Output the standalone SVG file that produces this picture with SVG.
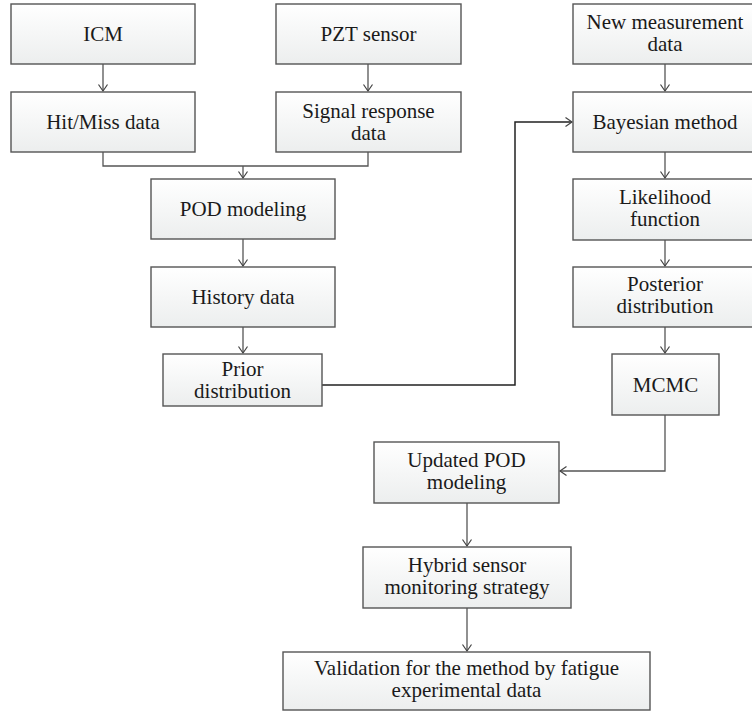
<svg xmlns="http://www.w3.org/2000/svg" width="752" height="712" viewBox="0 0 752 712">
<defs>
<linearGradient id="g" x1="0" y1="0" x2="0" y2="1">
<stop offset="0" stop-color="#ffffff"/>
<stop offset="1" stop-color="#eceeee"/>
</linearGradient>
<marker id="a" viewBox="-8 -6 10 12" refX="0" refY="0" markerWidth="10" markerHeight="12" markerUnits="userSpaceOnUse" orient="auto">
<path d="M-6.5,-4.5 L0,0 L-6.5,4.5" fill="none" stroke="#444" stroke-width="1.2"/>
</marker>
</defs>
<style>
rect{fill:url(#g);stroke:#555;stroke-width:1.4}
text{font-size:21px;fill:#1a1a1a;text-anchor:middle}
.c{fill:none;stroke:#555;stroke-width:1.3}
.k{fill:none;stroke:#222;stroke-width:1.5}
</style>
<rect x="0" y="0" width="752" height="712" style="fill:#fff;stroke:none"/>
<g id="connectors">
<path class="c" d="M103,64 V91" marker-end="url(#a)"/>
<path class="c" d="M368,64 V91" marker-end="url(#a)"/>
<path class="c" d="M103,152 V166 H368 V152"/>
<path class="c" d="M243,166 V178" marker-end="url(#a)"/>
<path class="c" d="M243,239 V266" marker-end="url(#a)"/>
<path class="c" d="M243,327 V353" marker-end="url(#a)"/>
<path class="k" d="M322,385 H515 V122 H572" marker-end="url(#a)"/>
<path class="c" d="M665,64 V91" marker-end="url(#a)"/>
<path class="c" d="M665,152 V178" marker-end="url(#a)"/>
<path class="c" d="M665,240 V266" marker-end="url(#a)"/>
<path class="c" d="M665,327 V353" marker-end="url(#a)"/>
<path class="c" d="M665,415 V471 H560" marker-end="url(#a)"/>
<path class="c" d="M467,503 V546" marker-end="url(#a)"/>
<path class="c" d="M467,608 V651" marker-end="url(#a)"/>
</g>
<g font-family="'Liberation Serif', 'Times New Roman', serif">
<g id="icm"><rect x="11" y="4" width="184" height="60"/><text x="103" y="41">ICM</text></g>
<g id="pzt"><rect x="276" y="4" width="185" height="60"/><text x="368.5" y="41">PZT sensor</text></g>
<g id="hitmiss"><rect x="11" y="92" width="184" height="60"/><text x="103" y="129">Hit/Miss data</text></g>
<g id="signal"><rect x="276" y="92" width="185" height="60"/><text x="368.5" y="118">Signal response</text><text x="368.5" y="140">data</text></g>
<g id="pod"><rect x="151" y="179" width="184" height="60"/><text x="243" y="216">POD modeling</text></g>
<g id="history"><rect x="151" y="267" width="184" height="60"/><text x="243" y="304">History data</text></g>
<g id="prior"><rect x="163" y="354" width="159" height="52"/><text x="242.5" y="376">Prior</text><text x="242.5" y="398">distribution</text></g>
<g id="newdata"><rect x="573" y="4" width="184" height="60"/><text x="665" y="29">New measurement</text><text x="665" y="51">data</text></g>
<g id="bayesian"><rect x="573" y="92" width="184" height="60"/><text x="665" y="129">Bayesian method</text></g>
<g id="likelihood"><rect x="573" y="179" width="184" height="61"/><text x="665" y="204">Likelihood</text><text x="665" y="226">function</text></g>
<g id="posterior"><rect x="573" y="267" width="184" height="60"/><text x="665" y="291">Posterior</text><text x="665" y="313">distribution</text></g>
<g id="mcmc"><rect x="612" y="354" width="107" height="61"/><text x="665.5" y="392">MCMC</text></g>
<g id="updated"><rect x="374" y="442" width="185" height="61"/><text x="466.5" y="467">Updated POD</text><text x="466.5" y="489">modeling</text></g>
<g id="hybrid"><rect x="363" y="547" width="208" height="61"/><text x="467" y="572">Hybrid sensor</text><text x="467" y="594">monitoring strategy</text></g>
<g id="validation"><rect x="283" y="652" width="367" height="58"/><text x="466.5" y="675">Validation for the method by fatigue</text><text x="466.5" y="697">experimental data</text></g>
</g>
</svg>
